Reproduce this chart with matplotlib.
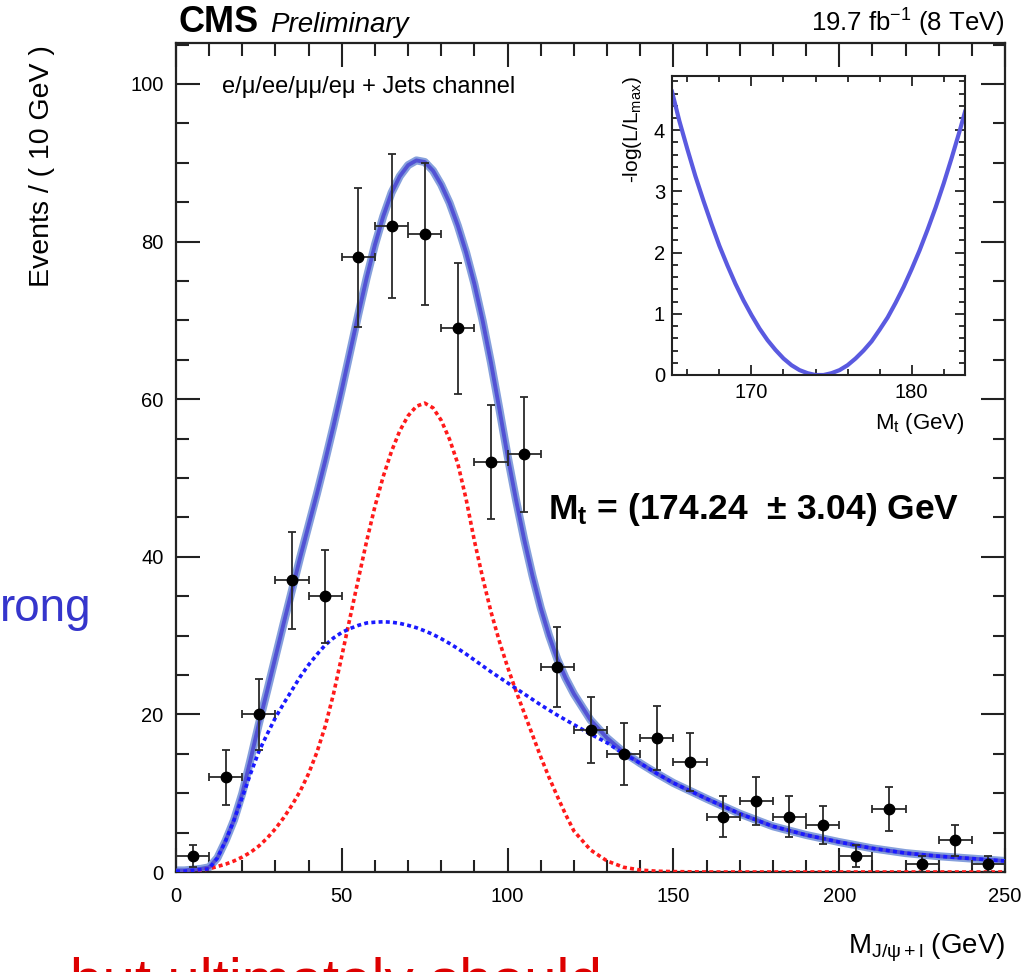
import matplotlib
matplotlib.use("Agg")
import matplotlib.pyplot as plt
from matplotlib.ticker import MultipleLocator

plt.rcParams['font.family'] = ['Liberation Sans', 'DejaVu Sans']
plt.rcParams['mathtext.fontset'] = 'custom'
plt.rcParams['mathtext.rm'] = 'Liberation Sans'
plt.rcParams['mathtext.it'] = 'Liberation Sans:italic'
plt.rcParams['mathtext.bf'] = 'Liberation Sans:bold'

# ---- binned data: M(J/psi + l) ----
bin_centers = [5, 15, 25, 35, 45, 55, 65, 75, 85, 95, 105, 115, 125,
               135, 145, 155, 165, 175, 185, 195, 205, 215, 225, 235, 245]
events = [2, 12, 20, 37, 35, 78, 82, 81, 69, 52, 53, 26, 18,
          15, 17, 14, 7, 9, 7, 6, 2, 8, 1, 4, 1]
event_errors = [1.4, 3.5, 4.5, 6.1, 5.9, 8.8, 9.1, 9.0, 8.3, 7.2, 7.3, 5.1, 4.2,
                3.9, 4.1, 3.7, 2.6, 3.0, 2.6, 2.4, 1.4, 2.8, 1.0, 2.0, 1.0]
bin_half_width = 5

# ---- fitted model curves ----
curve_m = [0, 2.5, 5, 7.5, 10, 12.5, 15, 17.5, 20, 22.5, 25, 27.5, 30, 32.5,
           35, 37.5, 40, 42.5, 45, 47.5, 50, 52.5, 55, 57.5, 60, 62.5, 65,
           67.5, 70, 72.5, 75, 77.5, 80, 82.5, 85, 87.5, 90, 92.5, 95, 97.5,
           100, 102.5, 105, 107.5, 110, 112.5, 115, 117.5, 120, 125, 130,
           135, 140, 145, 150, 160, 170, 180, 190, 200, 210, 220, 230, 240, 250]
total_fit = [0.2, 0.2, 0.3, 0.4, 0.6, 1.8, 4.0, 6.6, 10.0, 14.3, 18.8, 23.0,
             27.3, 31.6, 35.8, 40.0, 44.0, 48.0, 52.2, 56.6, 61.2, 66.0, 70.8,
             75.4, 79.6, 83.2, 86.2, 88.3, 89.7, 90.3, 90.1, 89.0, 87.2, 84.9,
             82.0, 78.6, 74.6, 69.9, 64.6, 58.8, 52.8, 47.3, 42.2, 37.6, 33.5,
             30.0, 27.0, 24.6, 22.6, 19.3, 17.0, 15.2, 13.8, 12.5, 11.3, 9.3,
             7.4, 5.8, 4.7, 3.8, 3.0, 2.4, 2.0, 1.7, 1.4]
background = [0.1, 0.1, 0.2, 0.3, 0.4, 1.8, 4.0, 6.6, 9.5, 12.5, 15.3, 17.5,
              19.6, 21.4, 23.1, 24.8, 26.3, 27.6, 28.8, 29.7, 30.4, 30.9, 31.3,
              31.6, 31.7, 31.75, 31.7, 31.55, 31.3, 31.0, 30.6, 30.15, 29.6,
              29.0, 28.35, 27.65, 26.9, 26.15, 25.4, 24.7, 24.0, 23.3, 22.6,
              21.9, 21.2, 20.55, 19.9, 19.3, 18.7, 17.5, 16.4, 15.0, 13.8, 12.5,
              11.3, 9.3, 7.4, 5.8, 4.7, 3.8, 3.0, 2.4, 2.0, 1.7, 1.4]
signal = [0.0, 0.0, 0.05, 0.2, 0.4, 0.7, 1.0, 1.4, 1.9, 2.5, 3.3, 4.3, 5.5,
          6.9, 8.5, 10.3, 12.5, 15.2, 18.5, 22.6, 27.4, 32.3, 37.2, 42.0, 46.4,
          50.2, 53.4, 56.0, 57.9, 59.1, 59.5, 58.9, 57.3, 54.9, 51.8, 47.3,
          42.0, 37.3, 33.0, 29.3, 26.0, 23.0, 20.2, 17.4, 14.6, 12.0, 9.6, 7.3,
          5.2, 2.8, 1.4, 0.6, 0.25, 0.1, 0.05, 0.0, 0.0, 0.0, 0.0, 0.0, 0.0,
          0.0, 0.0, 0.0, 0.0]

# ---- likelihood scan (inset) ----
scan_mt = [165.04, 165.5, 166, 166.5, 167, 167.5, 168, 168.5, 169, 169.5,
           170, 170.5, 171, 171.5, 172, 172.5, 173, 173.5, 174, 174.24, 174.5,
           175, 175.5, 176, 176.5, 177, 177.5, 178, 178.5, 179, 179.5, 180,
           180.5, 181, 181.5, 182, 182.5, 183, 183.33]
scan_nll = [4.63, 4.15, 3.69, 3.25, 2.85, 2.47, 2.11, 1.79, 1.49, 1.22,
            0.98, 0.76, 0.57, 0.41, 0.27, 0.16, 0.08, 0.03, 0.0, 0.0, 0.0,
            0.03, 0.08, 0.16, 0.27, 0.40, 0.55, 0.74, 0.94, 1.18, 1.44, 1.73,
            2.04, 2.38, 2.74, 3.13, 3.55, 3.99, 4.30]

W, H = 1025, 972
fig = plt.figure(figsize=(W / 100, H / 100), dpi=100)


def fx(px):
    return px / W


def fy(py):
    return 1 - py / H


# ---- main panel ----
ax = fig.add_axes([fx(176), fy(872), (1005 - 176) / W, (872 - 43) / H])
ax.set_xlim(0, 250)
ax.set_ylim(0, 105.2)

ax.plot(curve_m, total_fit, color='#86a0dc', lw=5.8, solid_capstyle='butt',
        zorder=2)
ax.plot(curve_m, total_fit, color='#5252d4', lw=2.8, zorder=3)
ax.plot(curve_m, signal, color='#ff1a1a', lw=2.6, linestyle=(0, (1.1, 0.9)),
        zorder=4)
ax.plot(curve_m, background, color='#1a1aff', lw=2.6,
        linestyle=(0, (1.1, 0.9)), zorder=5)
ax.errorbar(bin_centers, events, xerr=bin_half_width, yerr=event_errors,
            fmt='o', color='black', ms=7.5, ecolor='#2a2a2a', elinewidth=1.3,
            capsize=3, capthick=1.3, zorder=6)

ax.xaxis.set_major_locator(MultipleLocator(50))
ax.xaxis.set_minor_locator(MultipleLocator(10))
ax.yaxis.set_major_locator(MultipleLocator(20))
ax.yaxis.set_minor_locator(MultipleLocator(5))
ax.tick_params(which='both', direction='in', top=True, right=True,
               width=1.5, colors='#222222', labelcolor='black')
ax.tick_params(which='major', length=17, labelsize=14.5)
ax.tick_params(which='minor', length=9)
ax.tick_params(axis='x', which='major', pad=11)
ax.tick_params(axis='y', which='major', pad=9)
for s in ax.spines.values():
    s.set_linewidth(1.6)
    s.set_color('#222222')

ax.text(fx(222), fy(93), 'e/μ/ee/μμ/eμ + Jets channel', transform=fig.transFigure,
        fontsize=17, ha='left', va='baseline')
ax.text(fx(548), fy(519), r'M$_\mathbf{t}$ = (174.24  ± 3.04) GeV',
        transform=fig.transFigure, fontsize=25.5, fontweight='bold',
        ha='left', va='baseline')

# ---- header, axis titles ----
fig.text(fx(178), fy(32), 'CMS', fontsize=26, fontweight='bold',
         ha='left', va='baseline')
fig.text(fx(270), fy(32), 'Preliminary', fontsize=20, style='italic',
         ha='left', va='baseline')
fig.text(fx(1005), fy(32), r'19.7 fb$^{\mathregular{-1}}$ (8 TeV)', fontsize=18.5,
         ha='right', va='baseline')
fig.text(fx(42), fy(45), 'Events / ( 10 GeV )', fontsize=20.5, rotation=90,
         ha='center', va='top')
fig.text(fx(1005), fy(953), r'M$_{\mathregular{J/ψ+l}}$ (GeV)', fontsize=20,
         ha='right', va='baseline')

# ---- inset: likelihood scan ----
axi = fig.add_axes([fx(672), fy(375), (965 - 672) / W, (375 - 76) / H])
axi.set_xlim(165.04, 183.33)
axi.set_ylim(0, 4.886)
axi.plot(scan_mt, scan_nll, color='#5a5ae0', lw=3.0)
axi.xaxis.set_major_locator(MultipleLocator(10))
axi.xaxis.set_minor_locator(MultipleLocator(2))
axi.yaxis.set_major_locator(MultipleLocator(1))
axi.yaxis.set_minor_locator(MultipleLocator(0.2))
axi.tick_params(which='both', direction='in', top=True, right=True,
                width=1.3, colors='#222222', labelcolor='black')
axi.tick_params(which='major', length=7, labelsize=14.5)
axi.tick_params(which='minor', length=4)
axi.tick_params(axis='x', which='major', pad=6)
axi.tick_params(axis='y', which='major', pad=5)
for s in axi.spines.values():
    s.set_linewidth(1.5)
    s.set_color('#222222')
fig.text(fx(632), fy(76), r'-log(L/L$_{\mathregular{max}}$)', fontsize=15,
         rotation=90, ha='center', va='top')
fig.text(fx(965), fy(429), r'M$_{\mathregular{t}}$ (GeV)', fontsize=16,
         ha='right', va='baseline')

# ---- annotations around the figure ----
fig.text(fx(0), fy(621), 'rong', fontsize=33, color='#3535cc',
         ha='left', va='baseline')
fig.text(fx(70), fy(999), 'but ultimately should',
         fontsize=42, color='#dd0000', ha='left', va='baseline')

fig.savefig('out.png', dpi=100)
